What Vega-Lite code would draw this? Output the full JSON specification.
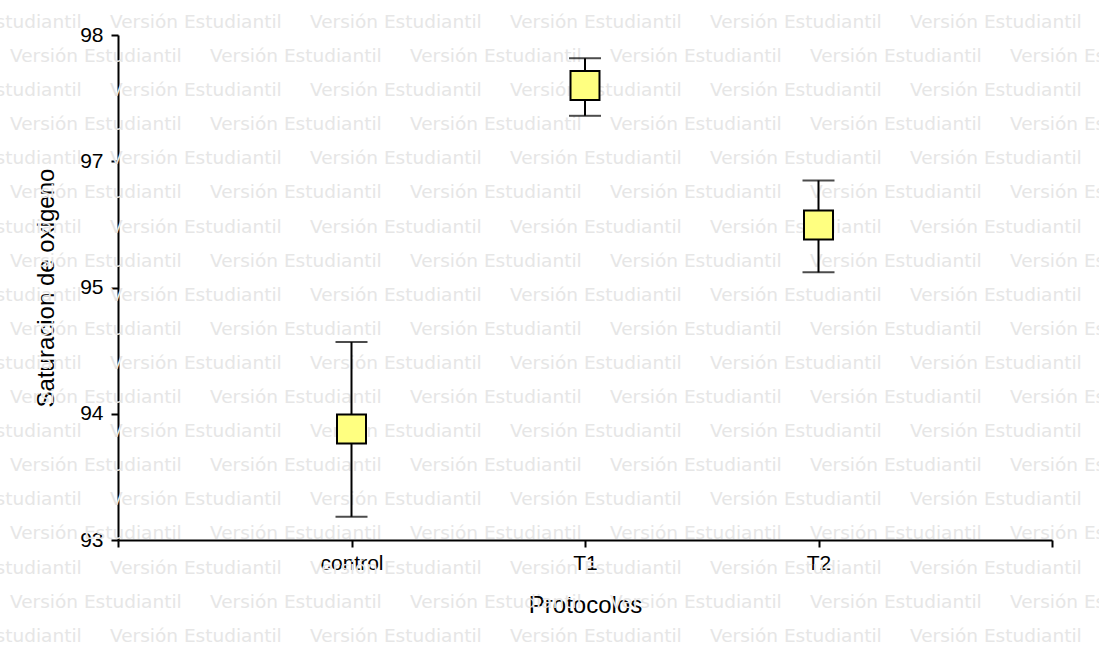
{
  "$schema": "https://vega.github.io/schema/vega-lite/v6.json",
  "autosize": {"type": "none"},
  "width": 934,
  "height": 505,
  "padding": {"left": 118, "top": 35, "right": 47, "bottom": 108},
  "background": "white",
  "config": {
    "view": {"stroke": null},
    "font": "Liberation Sans",
    "axis": {
      "domainColor": "black", "domainWidth": 2,
      "tickColor": "black", "tickWidth": 2, "tickSize": 7,
      "labelColor": "black", "labelFontSize": 21, "labelFont": "Liberation Sans",
      "titleColor": "black", "titleFontSize": 24, "titleFontWeight": "normal", "titleFont": "Liberation Sans",
      "grid": false, "zindex": 1
    }
  },
  "layer": [
    {
      "data": {"values": [
        {"fila": 0, "col": [-0.5, 0.5, 1.5, 2.5, 3.5, 4.5]},
        {"fila": 1, "col": [0, 1, 2, 3, 4, 5]},
        {"fila": 2, "col": [-0.5, 0.5, 1.5, 2.5, 3.5, 4.5]},
        {"fila": 3, "col": [0, 1, 2, 3, 4, 5]},
        {"fila": 4, "col": [-0.5, 0.5, 1.5, 2.5, 3.5, 4.5]},
        {"fila": 5, "col": [0, 1, 2, 3, 4, 5]},
        {"fila": 6, "col": [-0.5, 0.5, 1.5, 2.5, 3.5, 4.5]},
        {"fila": 7, "col": [0, 1, 2, 3, 4, 5]},
        {"fila": 8, "col": [-0.5, 0.5, 1.5, 2.5, 3.5, 4.5]},
        {"fila": 9, "col": [0, 1, 2, 3, 4, 5]},
        {"fila": 10, "col": [-0.5, 0.5, 1.5, 2.5, 3.5, 4.5]},
        {"fila": 11, "col": [0, 1, 2, 3, 4, 5]},
        {"fila": 12, "col": [-0.5, 0.5, 1.5, 2.5, 3.5, 4.5]},
        {"fila": 13, "col": [0, 1, 2, 3, 4, 5]},
        {"fila": 14, "col": [-0.5, 0.5, 1.5, 2.5, 3.5, 4.5]},
        {"fila": 15, "col": [0, 1, 2, 3, 4, 5]},
        {"fila": 16, "col": [-0.5, 0.5, 1.5, 2.5, 3.5, 4.5]},
        {"fila": 17, "col": [0, 1, 2, 3, 4, 5]},
        {"fila": 18, "col": [-0.5, 0.5, 1.5, 2.5, 3.5, 4.5]}
      ]},
      "transform": [{"flatten": ["col"]}],
      "mark": {"type": "text", "text": "Versión Estudiantil", "font": "DejaVu Sans", "fontSize": 18.5, "color": "#e6e6e6", "align": "left", "baseline": "alphabetic", "clip": false},
      "encoding": {
        "x": {"field": "col", "type": "quantitative", "scale": {"domain": [0.54, 5.21], "nice": false, "zero": false}, "axis": null},
        "y": {"field": "fila", "type": "quantitative", "scale": {"domain": [0.208, 15.017], "nice": false, "zero": false, "reverse": true}, "axis": null}
      }
    },
    {
      "data": {"values": [
        {"Protocolo": "control", "media": 94.1, "inf": 93.23, "sup": 94.96},
        {"Protocolo": "T1", "media": 97.5, "inf": 97.2, "sup": 97.77},
        {"Protocolo": "T2", "media": 96.12, "inf": 95.65, "sup": 96.56}
      ]},
      "encoding": {
        "x": {
          "field": "Protocolo", "type": "nominal",
          "scale": {"type": "point", "domain": ["", "control", "T1", "T2", " "], "padding": 0},
          "axis": {"title": "Protocolos", "labelAngle": 0, "labelPadding": 5, "titlePadding": 20}
        }
      },
      "layer": [
        {
          "mark": {"type": "rule", "color": "black", "strokeWidth": 2},
          "encoding": {
            "y": {
              "field": "inf", "type": "quantitative",
              "scale": {"domain": [93, 98], "nice": false, "zero": false},
              "axis": {
                "title": "Saturacion de oxigeno",
                "values": [93, 94.25, 95.5, 96.75, 98],
                "labelExpr": "datum.value == 94.25 ? '94' : datum.value == 95.5 ? '95' : datum.value == 96.75 ? '97' : format(datum.value, '.0f')",
                "labelPadding": 8, "titlePadding": 21
              }
            },
            "y2": {"field": "sup"}
          }
        },
        {
          "mark": {"type": "tick", "color": "black", "thickness": 2, "size": 32},
          "encoding": {"y": {"field": "inf", "type": "quantitative"}}
        },
        {
          "mark": {"type": "tick", "color": "black", "thickness": 2, "size": 32},
          "encoding": {"y": {"field": "sup", "type": "quantitative"}}
        },
        {
          "mark": {"type": "point", "shape": "square", "size": 841, "filled": true, "fill": "#ffff80", "stroke": "black", "strokeWidth": 2, "opacity": 1},
          "encoding": {"y": {"field": "media", "type": "quantitative"}}
        }
      ]
    }
  ],
  "resolve": {"scale": {"x": "independent", "y": "independent"}}
}
